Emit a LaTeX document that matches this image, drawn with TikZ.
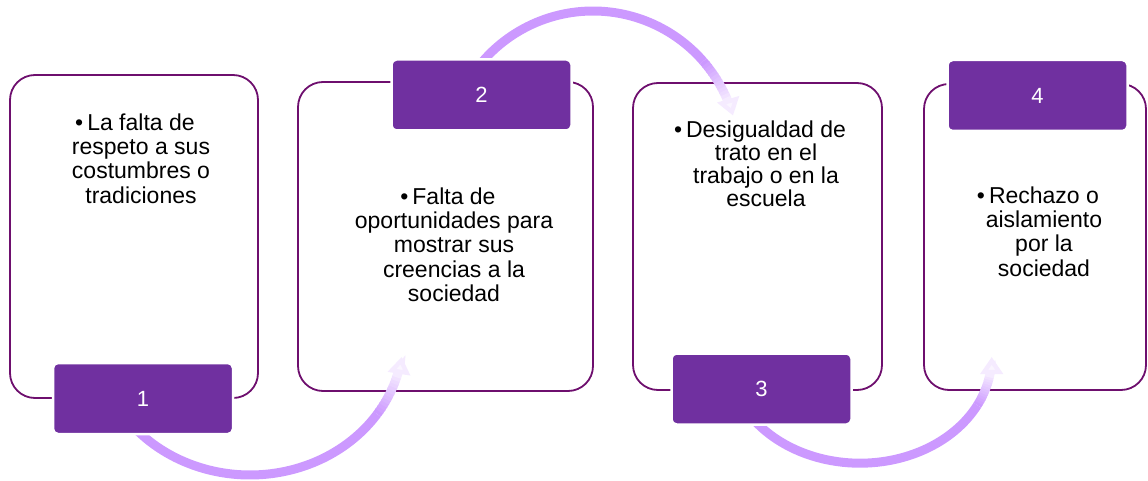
\documentclass[tikz,border=0pt]{standalone}
\usepackage{fontspec}
\setmainfont{Liberation Sans}
\usetikzlibrary{arrows.meta,calc}
\definecolor{boxline}{HTML}{6E0F6E}
\definecolor{labelfill}{HTML}{7030A0}
\definecolor{arrowc}{HTML}{CC99FF}
\tikzset{
  bigbox/.style={draw=boxline, line width=1.8pt, rounded corners=25pt, fill=white, inner sep=0pt},
  numbox/.style={fill=labelfill, draw=white, line width=2.5pt, rounded corners=5pt, text=white,
    font=\fontsize{22}{24}\selectfont, minimum width=180pt, minimum height=71pt, inner sep=0pt},
  bodytext/.style={align=center, font=\fontsize{23}{24.3}\selectfont, inner sep=0pt, anchor=north, text=black},
  arrowline/.style={line width=9pt, line cap=butt, draw=arrowc},
}
\newcommand{\myfadearc}[7]{%
  \draw[arrowline] ($(#1)+(#4:#2 and #3)$) arc[start angle=#4, end angle=#5, x radius=#2, y radius=#3];
  \foreach \k in {0,...,11}{%
    \pgfmathsetmacro\aa{#5+(#6-#5)*\k/12}%
    \pgfmathsetmacro\bb{#5+(#6-#5)*(\k+1)/12+sign(#6-#5)*0.4}%
    \pgfmathtruncatemacro\cc{100-\k*6.5}%
    \draw[arrowline, draw=arrowc!\cc] ($(#1)+(\aa:#2 and #3)$) arc[start angle=\aa, end angle=\bb, x radius=#2, y radius=#3];
  }%
  \draw[arrowline, draw=arrowc!20, -{Triangle[width=22pt,length=17pt,fill=arrowc!10]}]
    ($(#1)+(#6:#2 and #3)$) arc[start angle=#6, end angle=#7, x radius=#2, y radius=#3];
}
\begin{document}
\begin{tikzpicture}[x=1pt,y=1pt]
\useasboundingbox (0,0) rectangle (1148,-481);
% big boxes
\node[bigbox, minimum width=248pt, minimum height=323pt] (b1) at (134,-236.5) {};
\node[bigbox, minimum width=295pt, minimum height=309pt] (b2) at (445.5,-236.5) {};
\node[bigbox, minimum width=249pt, minimum height=307pt] (b3) at (757.5,-236.5) {};
\node[bigbox, minimum width=222pt, minimum height=306pt] (b4) at (1035,-237) {};
% arrow centres
\coordinate (c1) at (250,-337);
\coordinate (c2) at (593,-157);
\coordinate (c3) at (860,-357);
% arrows
\myfadearc{c1}{153.3}{138}{222}{326}{343}{351.7}
\myfadearc{c2}{146}{146}{143}{41}{24}{16.5}
\myfadearc{c3}{131.7}{106.2}{218}{333}{349}{360}
% texts
\node[bodytext] (t1) at (141,-113.3) {\llap{•\hspace{4pt}}La falta de\\respeto a sus\\costumbres o\\tradiciones};
\node[bodytext] (t2) at (454,-187.3) {\llap{•\hspace{4pt}}Falta de\\oportunidades para\\mostrar sus\\creencias a la\\sociedad};
\node[bodytext, font=\fontsize{23}{23}\selectfont] (t3) at (766,-120.3) {\llap{•\hspace{4pt}}Desigualdad de\\trato en el\\trabajo o en la\\escuela};
\node[bodytext] (t4) at (1044,-186.3) {\llap{•\hspace{4pt}}Rechazo o\\aislamiento\\por la\\sociedad};
% number labels
\node[numbox] (n1) at (143,-398.5) {1};
\node[numbox] (n2) at (481.5,-95) {2};
\node[numbox] (n3) at (761.5,-389) {3};
\node[numbox] (n4) at (1037.5,-95.5) {4};
\end{tikzpicture}
\end{document}
